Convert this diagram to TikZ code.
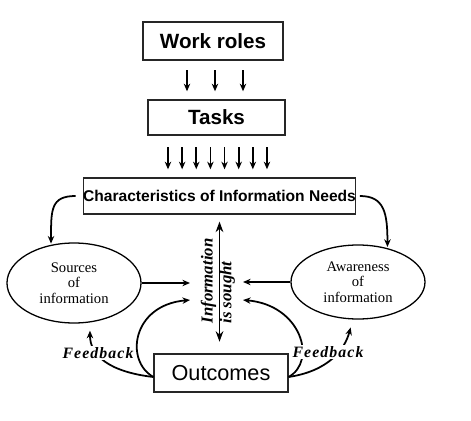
\documentclass[tikz,border=0pt]{standalone}
\usepackage{fontspec}
\setmainfont{Liberation Serif}
\setsansfont{Liberation Sans}
\newfontfamily\feedfont[LetterSpace=7]{Liberation Serif}
\usepackage{tikz}
\usetikzlibrary{calc, positioning, shapes.geometric}
\usetikzlibrary{arrows.meta}
\tikzset{>={Stealth[length=6.5pt,width=5.5pt]}}
\tikzset{
  box/.style={draw=black!85, line width=0.9pt, inner sep=0pt},
  oval/.style={draw, ellipse, line width=1.1pt, inner sep=0pt, align=center, font=\fontsize{12.5}{13.2}\selectfont},
  flow/.style={->, line width=1.5pt},
  feed/.style={fill=white, inner sep=1pt, font=\feedfont\bfseries\itshape\fontsize{13.5}{15}\selectfont}
}

\begin{document}
\begin{tikzpicture}[x=0.03cm, y=-0.03cm]
		\useasboundingbox (0,0) rectangle (471,421);
		\node[box, minimum width=4.2cm, minimum height=1.14cm, font=\sffamily\bfseries\fontsize{17.6}{20}\selectfont] (roles) at (213,41) {Work roles};
		\node[box, minimum width=4.11cm, minimum height=1.05cm, font=\sffamily\bfseries\fontsize{17.6}{20}\selectfont] (tasks) at (216.5,117.5) {Tasks};
		\node[box, minimum width=8.07cm, minimum height=1.08cm, font=\sffamily\bfseries\fontsize{13.3}{15}\selectfont] (needs) at (219.5,196) {Characteristics of Information Needs};
		\node[oval, minimum width=4.02cm, minimum height=2.4cm] (sources) at (74,283) {Sources\\of\\information};
		\node[oval, minimum width=4.02cm, minimum height=2.22cm] (aware) at (358,282) {Awareness\\of\\information};
		\node[box, minimum width=4.02cm, minimum height=1.14cm, font=\sffamily\fontsize{18.5}{20}\selectfont] (outcomes) at (221,373) {Outcomes};
		\node[rotate=90, align=left, font=\bfseries\itshape\fontsize{14.3}{16}\selectfont] (sought) at (218,281) {Information\\is sought};
		\coordinate (inL) at (190,283);
		\coordinate (inR) at (243,282);
		\coordinate (loopL) at (190,300);
		\coordinate (loopR) at (243,300);
		% roles and tasks
		\foreach \x in {187,215,243}
			\draw[flow, shorten <=8.5pt, shorten >=7pt] (\x,0 |- roles.south) -- (\x,0 |- tasks.north);
		\foreach \i in {0,...,7}
			\draw[flow, shorten <=10pt, shorten >=7pt] ({168+14.14*\i},0 |- tasks.south) -- ({168+14.14*\i},0 |- needs.north);
		% needs to the two ovals
		\draw[flow, shorten <=6pt, shorten >=1pt] (needs.west) .. controls ($(needs.west)+(-32,0)$) and ($(sources.121)+(0,-35)$) .. (sources.121);
		\draw[flow, shorten <=3pt, shorten >=1pt] (needs.east) .. controls ($(needs.east)+(28,0)$) and ($(aware.49)+(0,-35)$) .. (aware.49);
		\draw[flow] (sources.east) -- (inL);
		\draw[flow] (aware.west) -- (inR);
		\draw[{Stealth[length=9pt,width=6.5pt]}-{Stealth[length=9pt,width=6.5pt]}, line width=1.5pt, shorten <=6pt, shorten >=10pt] (needs.south) -- (needs.south |- outcomes.north);
		% outcomes loops
		\draw[flow] ($(outcomes.west)+(0,4)$) .. controls ($(outcomes.west)+(-29,-12)$) and ($(loopL)+(-58,5)$) .. (loopL);
		\draw[flow] ($(outcomes.east)+(0,4)$) .. controls ($(outcomes.east)+(29,-12)$) and ($(loopR)+(58,5)$) .. (loopR);
		\draw[flow, shorten >=7pt] ($(outcomes.west)+(0,4)$) .. controls ($(outcomes.west)+(-44,-1)$) and ($(sources.292)+(0,33)$) .. (sources.292);
		\draw[flow, shorten >=7pt] ($(outcomes.east)+(0,4)$) .. controls ($(outcomes.east)+(40,-2)$) and ($(aware.262)+(-8,30)$) .. (aware.262);
		\node[feed] (fbL) at (98,353) {Feedback};
		\node[feed] (fbR) at (328,352) {Feedback};
	\end{tikzpicture}
\end{document}
